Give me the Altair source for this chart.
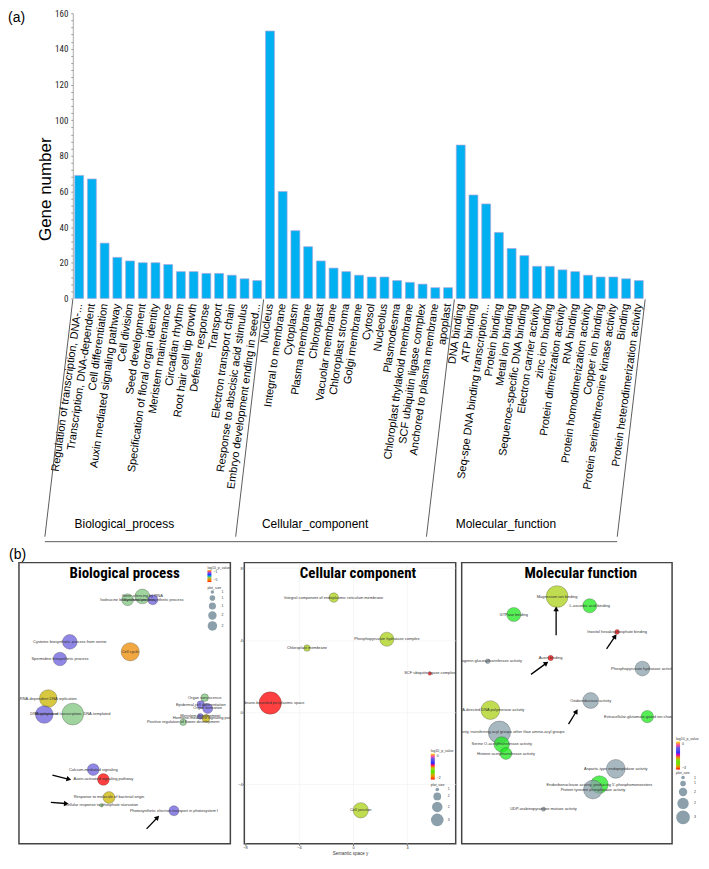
import math
import altair as alt
import pandas as pd

# ======================= (a) GO annotation bar chart =======================
bp_terms = ["Regulation of transcription, DNA-...", "Transcription, DNA-dependent", "Cell differentiation",
            "Auxin mediated signaling pathway", "Cell division", "Seed development",
            "Specification of floral organ identity", "Meristem maintenance", "Circadian rhythm",
            "Root hair cell tip growth", "Defense response", "Transport", "Electron transport chain",
            "Response to abscisic acid stimulus", "Embryo development ending in seed..."]
bp_counts = [69, 67, 31, 23, 21, 20, 20, 19, 15, 15, 14, 14, 13, 11, 10]

cc_terms = ["Nucleus", "Integral to membrane", "Cytoplasm", "Plasma membrane", "Chloroplast",
            "Vacuolar membrane", "Chloroplast stroma", "Golgi membrane", "Cytosol", "Nucleolus",
            "Plasmodesma", "Chloroplast thylakoid membrane", "SCF ubiquitin ligase complex",
            "Anchored to plasma membrane", "apoplast"]
cc_counts = [150, 60, 38, 29, 21, 17, 15, 13, 12, 12, 10, 9, 8, 6, 6]

mf_terms = ["DNA binding", "ATP binding", "Seq-spe DNA binding transcription...", "Protein binding",
            "Metal ion binding", "Sequence-specific DNA binding", "Electron carrier activity",
            "zinc ion binding", "Protein dimerization activity", "RNA binding",
            "Protein homodimerization activity", "Copper ion binding",
            "Protein serine/threonine kinase activity", "Binding", "Protein heterodimerization activity"]
mf_counts = [86, 58, 53, 37, 28, 24, 18, 18, 16, 15, 13, 12, 12, 11, 10]

group_names = ["Biological_process", "Cellular_component", "Molecular_function"]

# ======================= (b) REVIGO bubble plots =======================
# Biological process
bpb_terms = ["Isoleucine biosynthetic process", "Gene silencing by RNA", "Glucosinolate biosynthetic process",
             "Cysteine biosynthetic process from serine", "Spermidine biosynthetic process", "Cell cycle",
             "RNA-dependent DNA replication", "DNA integration", "Regulation of transcription, DNA-templated",
             "Organ senescence", "Epidermal cell differentiation", "Organ formation",
             "Positive regulation of flower development", "Meristem development",
             "Hormone-mediated signaling pathway", "Calcium-mediated signaling",
             "Auxin-activated signaling pathway", "Response to molecule of bacterial origin",
             "Cellular response to phosphate starvation",
             "Photosynthetic electron transport in photosystem I"]
bpb_x = [0.38, 1.51, 2.32, -4.08, -4.84, 0.58, -5.74, -6.05, -3.85, 6.32, 6.02, 6.55, 4.66, 5.98,
         6.42, -2.27, -1.49, -1.06, -1.64, 3.95]
bpb_y = [6.53, 6.75, 6.53, 3.73, 2.59, 3.07, -0.04, -1.10, -1.07, 0.02, -0.44, -0.70, -1.62, -1.22,
         -1.36, -4.76, -5.42, -6.62, -7.13, -7.50]
bpb_size = [2.31, 3.11, 1.91, 3.11, 2.77, 4.31, 4.09, 4.09, 5.77, 1.48, 1.48, 1.91, 1.30, 1.22,
            1.48, 2.31, 2.31, 2.31, 1.00, 1.91]
bpb_logp = [-3.0, -3.0, -1.8, -1.8, -1.8, -3.8, -1.0, -1.8, -3.0, -3.0, -1.8, -1.8, -3.0, -1.8,
            -1.0, -1.8, -4.5, -1.0, -3.0, -1.8]
bpb_arrows = [(-5.42, -5.13, -4.21, -5.39), (-5.54, -6.95, -4.41, -7.02), (1.84, -8.71, 2.64, -7.98)]

# Cellular component
ccb_terms = ["Integral component of endoplasmic reticulum membrane", "Phosphopyruvate hydratase complex",
             "Chloroplast membrane", "SCF ubiquitin ligase complex", "Membrane-bounded periplasmic space",
             "Cell junction"]
ccb_x = [-1.43, 2.50, -3.41, 5.68, -6.13, 0.57]
ccb_y = [6.36, 4.05, 3.56, 2.15, 0.51, -5.44]
ccb_size = [1.79, 2.93, 1.30, 1.00, 6.04, 3.29]
ccb_logp = [-1.1, -1.1, -1.1, -1.8, -1.8, -1.1]

# Molecular function
mfb_terms = ["Magnesium ion binding", "L-ascorbic acid binding", "GTPase binding",
             "Inositol hexakisphosphate binding", "Glycogenin glucosyltransferase activity", "Auxin binding",
             "Phosphopyruvate hydratase activity", "Oxidoreductase activity",
             "RNA-directed DNA polymerase activity", "Extracellular-glutamate-gated ion channel activity",
             "Transferase activity, transferring acyl groups other than amino-acyl groups",
             "Serine O-acetyltransferase activity", "Histone acetyltransferase activity",
             "Aspartic-type endopeptidase activity",
             "Endoribonuclease activity, producing 5'-phosphomonoesters",
             "Protein tyrosine phosphatase activity", "UDP-arabinopyranose mutase activity"]
mfb_x = [-0.82, 1.91, -4.44, 4.20, -6.62, -1.36, 6.32, 1.99, -6.40, 6.73, -5.64, -5.45, -5.10, 4.09,
         2.72, 2.18, -1.96]
mfb_y = [6.42, 5.80, 5.21, 4.04, 2.07, 2.29, 1.58, -0.57, -1.21, -1.65, -2.70, -3.52, -4.13, -5.16,
         -6.22, -6.55, -7.87]
mfb_size = [5.77, 2.93, 2.93, 1.10, 1.10, 1.16, 3.11, 3.48, 4.53, 2.45, 6.04, 3.29, 2.31, 4.53,
            4.09, 4.53, 1.05]
mfb_logp = [-1.7, -2.1, -2.1, -2.6, 0.0, -2.6, 0.0, 0.0, -1.7, -2.1, 0.0, -2.1, -2.1, 0.0,
            -2.1, 0.0, 0.0]
mfb_arrows = [(-0.90, 3.82, -0.90, 5.54), (-3.00, 1.19, -1.77, 1.91), (3.32, 2.90, 4.00, 3.71),
              (0.14, -2.15, 0.76, -1.34)]

# ----------------------------------------------------------------------------
SANS = "Liberation Sans, Arial, Helvetica, sans-serif"
NARROW = "Liberation Sans Narrow, Arial Narrow, Roboto Condensed, Liberation Sans, sans-serif"

terms_all = bp_terms + cc_terms + mf_terms
bar_df = pd.DataFrame({"term": terms_all, "count": bp_counts + cc_counts + mf_counts})
n_total = len(terms_all)
bounds = [0]
for g in (bp_terms, cc_terms, mf_terms):
    bounds.append(bounds[-1] + len(g))
sep_df = pd.DataFrame({"pos": bounds})
base_df = pd.DataFrame({"start": [bounds[0]], "end": [bounds[-1]]})
glab_df = pd.DataFrame({"pos": [(bounds[i] + bounds[i + 1]) / 2 for i in range(3)], "name": group_names})

X0 = 54            # left inset of the bar area inside the (wider) view
W_A, H_A = 628, 286
pos_scale = alt.Scale(domain=[0, n_total], range=[X0, W_A], nice=False, zero=False)

bars = alt.Chart(bar_df).mark_bar(color="#00B0F0", stroke="#a8a8dc", strokeWidth=0.7).encode(
    x=alt.X("term:N", sort=terms_all,
            scale=alt.Scale(paddingInner=0.3, paddingOuter=0.15, range=[X0, W_A]),
            axis=alt.Axis(title=None, labelAngle=-82, labelAlign="right", labelBaseline="middle",
                          labelFont=SANS, labelFontSize=11, labelColor="#000", labelPadding=5,
                          labelLimit=300, labelOverlap=False, ticks=False, domain=False)),
    y=alt.Y("count:Q", scale=alt.Scale(domain=[0, 160], nice=False),
            axis=alt.Axis(title="Gene number", values=list(range(0, 161, 4)), offset=-X0,
                          labelExpr="datum.value % 20 === 0 ? datum.label : ''",
                          labelFont=NARROW, labelFontSize=9, labelColor="#222", labelPadding=3,
                          labelOverlap=False, tickSize=2, tickColor="#999", domainColor="#aaa",
                          grid=False, titleFont=SANS, titleFontSize=17, titleFontWeight="normal",
                          titleColor="#000", titleX=-18, titleY=176)),
)

seps = alt.Chart(sep_df).mark_rule(color="#333", strokeWidth=0.8, x2Offset=-28).encode(
    x=alt.X("pos:Q", scale=pos_scale, axis=None),
    x2=alt.X2("pos:Q"),
    y=alt.value(H_A + 1),
    y2=alt.value(H_A + 239),
)
baseline = alt.Chart(base_df).mark_rule(color="#333", strokeWidth=0.8, xOffset=-28, x2Offset=-28).encode(
    x=alt.X("start:Q", scale=pos_scale, axis=None),
    x2=alt.X2("end:Q"),
    y=alt.value(H_A + 244),
)
glabels = alt.Chart(glab_df).mark_text(font=SANS, fontSize=12, color="#000", dx=-44,
                                        baseline="middle").encode(
    x=alt.X("pos:Q", scale=pos_scale, axis=None),
    y=alt.value(H_A + 226),
    text="name:N",
)
atext = alt.Chart(pd.DataFrame({"t": ["(a)"]})).mark_text(
    font=SANS, fontSize=14, align="left", baseline="top", color="#000").encode(
    x=alt.value(-11), y=alt.value(-2), text="t:N")

bar_layer = alt.layer(bars, seps, baseline, glabels, atext).resolve_scale(x="independent").properties(
    width=W_A, height=H_A)

# ----------------------------------------------------------------------------
AX = dict(labelFontSize=4, labelColor="#333", tickSize=1.5, tickColor="#555", labelPadding=0.5,
          titleFontSize=4.5, titleFontWeight="normal", titleColor="#333", titlePadding=1,
          domain=False, grid=True, gridColor="#ececec", gridWidth=0.5, labelFont=SANS,
          titleFont=SANS, labelFlush=False)
LEG = dict(titleFontSize=3.5, labelFontSize=3.5, titleFontWeight="normal", titlePadding=1,
           padding=1, labelFont=SANS, titleFont=SANS, labelColor="#333", titleColor="#333")

RED, ORANGE, BLUE, PURPLE, YELLOW = "#ff0000", "#ed8b00", "#2222ff", "#695ddd", "#ffe600"
NA_GRAY = "#8ba0ab"


def bubble_panel(terms, xs, ys, sizes, logp, arrows, title, xdom, ydom, xticks, yticks,
                 width, height, cdom, crange, legpos, size_values, grad_len, ytitle, title_dx,
                 extra=()):
    df = pd.DataFrame({"term": terms, "x": xs, "y": ys, "log_size": sizes, "log10_p": logp})
    xsc = alt.Scale(domain=xdom, nice=False, zero=False)
    ysc = alt.Scale(domain=ydom, nice=False, zero=False)
    X = alt.X("x:Q", scale=xsc, axis=alt.Axis(values=xticks, title="Semantic space y", **AX))
    Y = alt.Y("y:Q", scale=ysc, axis=alt.Axis(values=yticks, title=ytitle, **AX))
    lx, ly_c, ly_s = legpos
    color = alt.condition(
        f"datum.log10_p > {cdom[-1]}", alt.value(NA_GRAY),
        alt.Color("log10_p:Q", scale=alt.Scale(domain=cdom, range=crange),
                  legend=alt.Legend(title="log10_p_value", orient="none", legendX=lx, legendY=ly_c,
                                    gradientLength=grad_len, gradientThickness=4,
                                    direction="vertical", **LEG)))
    size = alt.Size("log_size:Q", scale=alt.Scale(domain=[1, 6], range=[12.6, 500]),
                    legend=alt.Legend(title="plot_size", orient="none", legendX=lx, legendY=ly_s,
                                      values=size_values,
                                      symbolFillColor="#555555", symbolStrokeColor="#555555",
                                      symbolOpacity=1, symbolStrokeWidth=0, rowPadding=1, **LEG))
    bubbles = alt.Chart(df).mark_circle(opacity=1, fillOpacity=0.75, stroke="#333",
                                        strokeWidth=0.4, strokeOpacity=0.7).encode(
        x=X, y=Y, color=color, size=size)
    labels = alt.Chart(df).mark_text(font=SANS, fontSize=4, color="#333", clip=True).encode(
        x=X, y=Y, text="term:N")
    layers = [bubbles, labels]
    if arrows:
        ppx = width / (xdom[1] - xdom[0])
        ppy = height / (ydom[1] - ydom[0])
        adf = pd.DataFrame(arrows, columns=["tx", "ty", "hx", "hy"])
        adf["ang"] = [math.degrees(math.atan2((hx - tx) * ppx, (hy - ty) * ppy)) % 360
                      for tx, ty, hx, hy in arrows]
        layers.append(alt.Chart(adf).mark_rule(color="#000", strokeWidth=1.3).encode(
            x=alt.X("tx:Q", scale=xsc, axis=None), y=alt.Y("ty:Q", scale=ysc, axis=None),
            x2="hx:Q", y2="hy:Q"))
        layers.append(alt.Chart(adf).mark_point(shape="triangle", filled=True, size=30,
                                                color="#000", opacity=1).encode(
            x=alt.X("hx:Q", scale=xsc, axis=None), y=alt.Y("hy:Q", scale=ysc, axis=None),
            angle=alt.Angle("ang:Q", scale=None)))
    layers.append(alt.Chart(pd.DataFrame({"t": [title]})).mark_text(
        font=NARROW, fontSize=15, fontWeight="bold", color="#000", baseline="middle").encode(
        x=alt.value(width / 2 + title_dx), y=alt.value(10), text="t:N"))
    layers.extend(extra)
    return alt.layer(*layers).properties(
        width=width, height=height,
        view=alt.ViewBackground(stroke="#444", strokeWidth=1.5, strokeOpacity=1))


btext = alt.Chart(pd.DataFrame({"t": ["(b)"]})).mark_text(
    font=SANS, fontSize=14, align="left", baseline="bottom", color="#000").encode(
    x=alt.value(-10), y=alt.value(-1), text="t:N")

PH = 282
BW, CW, MW = 212, 212, 211
bp_panel = bubble_panel(
    bpb_terms, bpb_x, bpb_y, bpb_size, bpb_logp, bpb_arrows, "Biological process",
    [-8, 8.3], [-9.7, 9.0], [-8, -4, 0, 4, 8], [-5, 0, 5], BW, PH,
    [-4.5, -3.8, -3.0, -2.4, -1.8, -1.0],
    [RED, ORANGE, "#7fc57f", BLUE, PURPLE, "#cbb500"],
    (BW - 24, 2, 22), [1, 1.2, 1.4, 1.6, 1.8], 12, "Semantic space x", 0, extra=(btext,))

cc_panel = bubble_panel(
    ccb_terms, ccb_x, ccb_y, ccb_size, ccb_logp, [], "Cellular component",
    [-8.05, 7.6], [-7.3, 8.3], [-8, -4, 0, 4], [-4, 0, 4, 8], CW, PH,
    [-1.8, -1.6, -1.35, -1.1, -0.8, -0.5, -0.2],
    [RED, ORANGE, "#1ce81c", "#abd015", BLUE, PURPLE, YELLOW],
    (CW - 26, 186, 220), [1, 1.5, 2, 2.5], 26, None, 8)

mf_panel = bubble_panel(
    mfb_terms, mfb_x, mfb_y, mfb_size, mfb_logp, mfb_arrows, "Molecular function",
    [-8.8, 8.8], [-10.2, 8.7], [-5, 0, 5], [-10, -5, 0, 5], MW, PH,
    [-2.6, -2.4, -2.1, -1.7, -1.3, -0.8, -0.3],
    [RED, ORANGE, "#1ce81c", "#abd015", BLUE, PURPLE, YELLOW],
    (MW + 3, 174, 208), [1, 1.2, 1.6, 2.2, 2.8], 28, None, 14)

bottom = alt.hconcat(bp_panel, cc_panel, mf_panel, spacing=4).resolve_scale(
    x="independent", y="independent", color="independent", size="independent").resolve_legend(
    color="independent", size="independent")

chart = alt.vconcat(bar_layer, bottom, spacing=4).properties(
    padding=0).configure(font=SANS).configure_view(strokeOpacity=0)

chart.save("out.html", embed_options={"renderer": "svg", "actions": False})
